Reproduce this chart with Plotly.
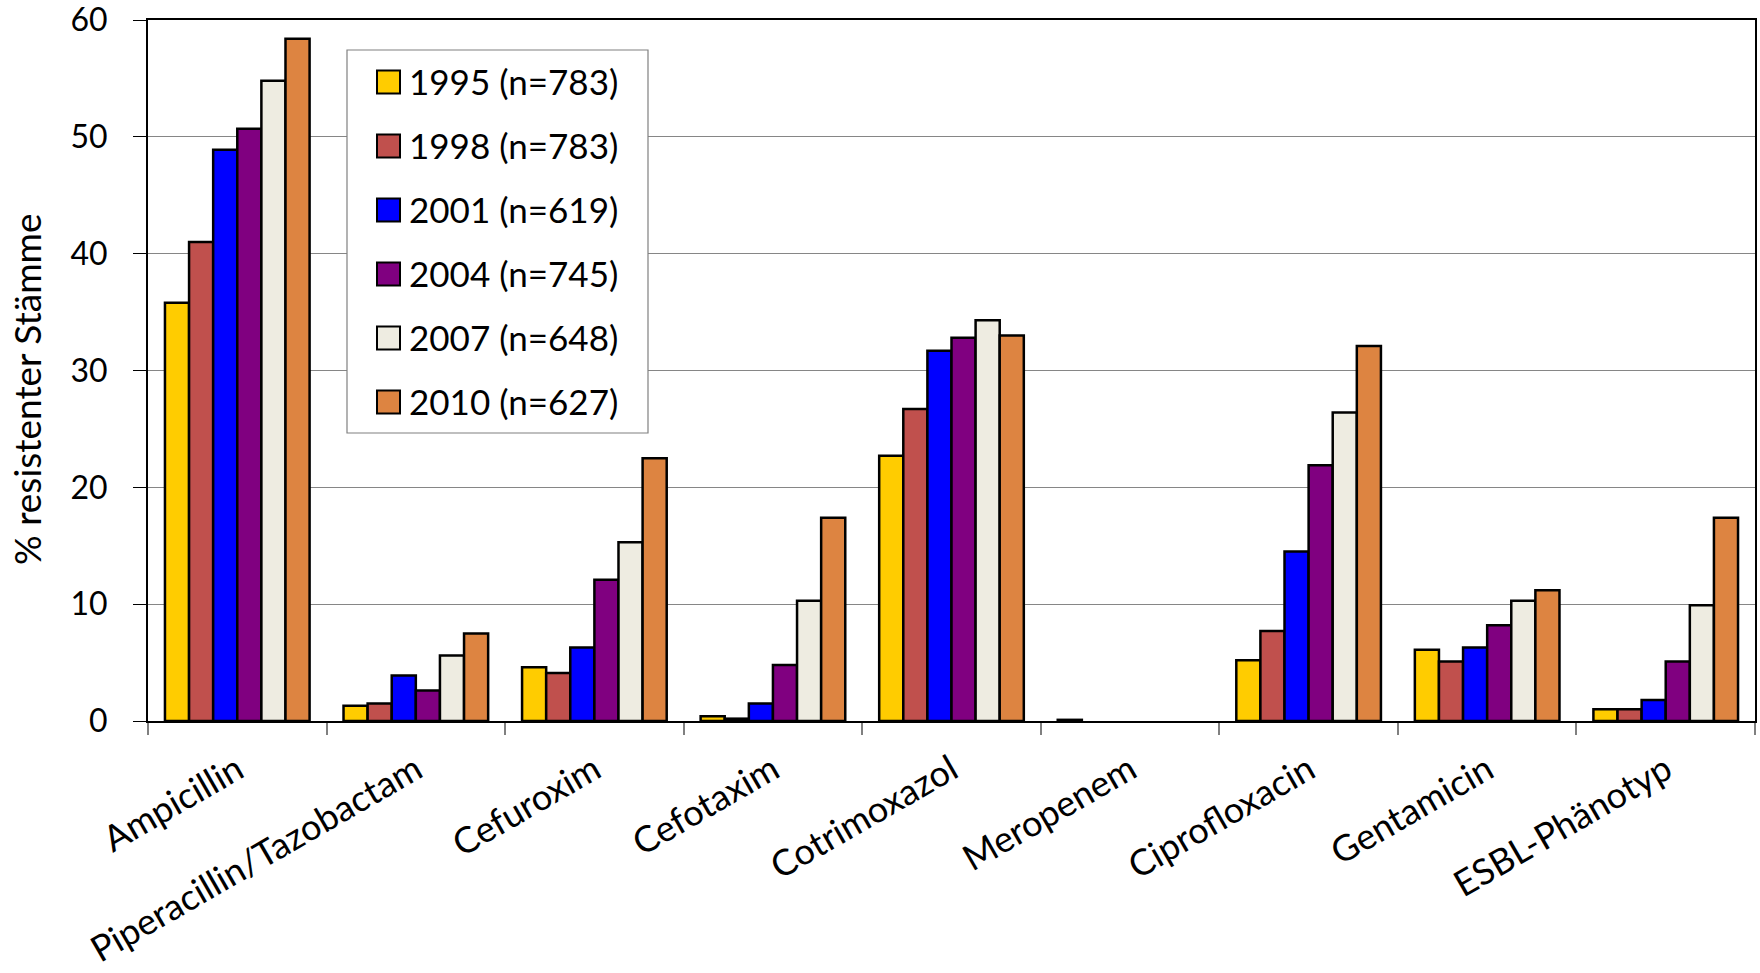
import plotly.graph_objects as go

# Antibiotics on the x axis
categories = [
    "Ampicillin", "Piperacillin/Tazobactam", "Cefuroxim", "Cefotaxim",
    "Cotrimoxazol", "Meropenem", "Ciprofloxacin", "Gentamicin", "ESBL-Phänotyp",
]

# Study years with sample sizes
series_names = [
    "1995 (n=783)", "1998 (n=783)", "2001 (n=619)",
    "2004 (n=745)", "2007 (n=648)", "2010 (n=627)",
]
series_colors = ["#FFCC00", "#C0504D", "#0000FF", "#800080", "#EEECE1", "#DD8441"]

# % resistant strains per year, one value per antibiotic
r1995 = [35.8, 1.3, 4.6, 0.4, 22.7, 0.1, 5.2, 6.1, 1.0]
r1998 = [41.0, 1.5, 4.1, 0.2, 26.7, 0.0, 7.7, 5.1, 1.0]
r2001 = [48.9, 3.9, 6.3, 1.5, 31.7, 0.0, 14.5, 6.3, 1.8]
r2004 = [50.7, 2.6, 12.1, 4.8, 32.8, 0.0, 21.9, 8.2, 5.1]
r2007 = [54.8, 5.6, 15.3, 10.3, 34.3, 0.0, 26.4, 10.3, 9.9]
r2010 = [58.4, 7.5, 22.5, 17.4, 33.0, 0.0, 32.1, 11.2, 17.4]
series_values = [r1995, r1998, r2001, r2004, r2007, r2010]

y_ticks = [0, 10, 20, 30, 40, 50, 60]

TEXT_FONT = "Lato"

fig = go.Figure()
for name, color, values in zip(series_names, series_colors, series_values):
    # no outline on empty bars, so a 0 % value leaves the slot blank
    outline = [2.5 if v > 0 else 0 for v in values]
    fig.add_trace(go.Bar(
        x=categories, y=values, name=name,
        marker=dict(color=color, line=dict(color="black", width=outline)),
        showlegend=False,
    ))

# Plot area in pixels (used to place the hand-built legend)
W, H = 1760, 973
ml, mr, mt, mb = 148, 5, 20, 252
pw, ph = W - ml - mr, H - mt - mb


def px_x(x):
    return (x - ml) / pw


def px_y(y):
    return (H - mb - y) / ph


shapes = [dict(
    type="rect", xref="paper", yref="paper", layer="above",
    x0=px_x(347), x1=px_x(648), y0=px_y(433), y1=px_y(50),
    fillcolor="white", line=dict(color="#808080", width=1.2),
)]
annotations = []
for i, (name, color) in enumerate(zip(series_names, series_colors)):
    cy = 82 + 64 * i
    shapes.append(dict(
        type="rect", xref="paper", yref="paper", layer="above",
        x0=px_x(377), x1=px_x(400), y0=px_y(cy + 11.5), y1=px_y(cy - 11.5),
        fillcolor=color, line=dict(color="black", width=2),
    ))
    annotations.append(dict(
        text=name, xref="paper", yref="paper", x=px_x(407), y=px_y(cy - 1),
        xanchor="left", yanchor="middle", showarrow=False,
        font=dict(family=TEXT_FONT, size=35, color="black"),
    ))

annotations.append(dict(
    text="% resistenter Stämme", xref="paper", yref="paper",
    x=px_x(26), y=px_y(389), xanchor="center", yanchor="middle",
    textangle=-90, showarrow=False,
    font=dict(family=TEXT_FONT, size=37, color="black"),
))

fig.update_layout(
    width=W, height=H,
    margin=dict(l=ml, r=mr, t=mt, b=mb, pad=0, autoexpand=False),
    paper_bgcolor="white", plot_bgcolor="white",
    barmode="group", bargap=0.19, bargroupgap=0,
    shapes=shapes, annotations=annotations,
)
fig.update_xaxes(
    automargin=False,
    showline=True, linecolor="black", linewidth=2, mirror=True,
    ticks="outside", tickson="boundaries", ticklen=12, tickcolor="#808080",
    tickwidth=1.5, tickangle=-30, ticklabelstandoff=12,
    tickfont=dict(family=TEXT_FONT, size=36, color="black"),
    showgrid=False,
)
fig.update_yaxes(
    automargin=False,
    range=[0, 60], tickvals=y_ticks, ticktext=[str(v) for v in y_ticks],
    showline=True, linecolor="black", linewidth=2, mirror=True,
    ticks="outside", ticklen=13, tickcolor="black", tickwidth=1.2,
    ticklabelstandoff=19, ticklabeloverflow="allow",
    tickfont=dict(family=TEXT_FONT, size=32, color="black"),
    showgrid=True, gridcolor="#868686", gridwidth=1.3,
    zeroline=False,
)

fig.write_html("out.html")
